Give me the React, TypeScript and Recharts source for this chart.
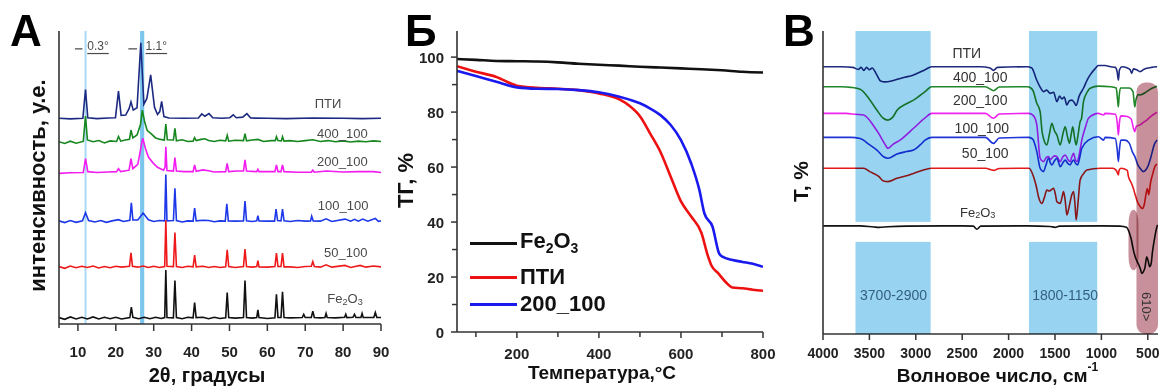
import React from "react";
import {
  LineChart,
  Line,
  XAxis,
  YAxis,
  ReferenceArea,
  ReferenceLine,
  ReferenceDot,
  Label,
  Legend,
} from "recharts";

const FONT = '"Liberation Sans", Arial, Helvetica, sans-serif';
const INK = "#333";

type Pt = [number, number];
const rows = (pts: Pt[]) => pts.map(([x, y]) => ({ x, y }));

// ---------- А: XRD patterns (2θ, offset intensity) ----------
const xrdTicks = [5, 10, 15, 20, 25, 30, 35, 40, 45, 50, 55, 60, 65, 70, 75, 80, 85, 90];
const xrdTickLabels = [10, 20, 30, 40, 50, 60, 70, 80, 90];

const xrdPti: Pt[] = [
  [5, 70.2], [8, 70.0], [11.3, 70.2], [12.0, 80], [12.6, 70.4], [15, 70.1], [18, 70.3],
  [19.9, 70.4], [20.7, 79.5], [21.4, 71.2], [22.6, 71.3], [23.5, 73.5], [24.0, 75.8],
  [24.6, 73], [25.6, 73.8], [26.6, 96], [27.4, 75], [28.2, 77], [29.2, 85], [30.2, 74],
  [31.0, 71.5], [31.6, 72.5], [32.1, 76], [32.7, 70.8], [34, 70.3], [38, 70.2], [41.8, 70.3],
  [42.7, 71.7], [43.5, 70.9], [44.6, 71.8], [45.6, 70.4], [48, 70.2], [50.1, 70.4], [51.0, 71.4],
  [51.8, 70.4], [53.5, 70.6], [54.6, 71.8], [55.6, 70.3], [60, 70.2], [65, 70.1], [72, 70.3],
  [80, 70.2], [85, 70.1], [90, 70.2],
];
const xrd400: Pt[] = [
  [5, 62.2], [6.5, 61.6], [8, 62.4], [9.5, 61.7], [11.4, 62.3], [12.0, 71], [12.5, 62.8],
  [14, 62.2], [15.5, 62.6], [17, 61.8], [18.5, 62.5], [20.2, 62.3], [20.7, 64], [21.3, 62.4],
  [22.5, 62.8], [23.6, 63], [24.0, 66.2], [24.5, 63.5], [25.6, 64.5], [26.5, 68], [27.0, 73],
  [27.6, 69], [28.3, 66], [29.3, 65], [30.5, 63.5], [31.8, 63], [32.8, 62.8], [33.2, 68.2],
  [33.6, 62.9], [35.2, 62.8], [35.6, 66.8], [36.0, 62.5], [37.5, 62.9], [39, 62.3], [40.4, 62.4],
  [40.8, 63.6], [41.2, 62.6], [42.5, 63], [43.5, 63.2], [44.5, 62.6], [46, 62.3], [47.5, 62.7],
  [49.0, 62.5], [49.4, 64.4], [49.8, 62.4], [51.5, 62.7], [53.7, 62.6], [54.1, 65], [54.5, 62.5],
  [56, 62.8], [57.5, 63], [59, 62.3], [61, 62.6], [62.1, 62.6], [62.4, 63.9], [62.8, 62.6],
  [63.7, 62.5], [64.0, 63.9], [64.4, 62.4], [66, 62.6], [68, 62.3], [70, 62.6], [72, 62.9],
  [74, 62.3], [76, 62.6], [78, 62.2], [80, 62.5], [82, 62.1], [84, 62.4], [86, 62.2], [88, 62.5],
  [90, 62.3],
];
const xrd200: Pt[] = [
  [5, 51.4], [8, 51.6], [11.4, 51.7], [12.0, 56.4], [12.6, 52], [15, 51.7], [18, 51.9],
  [20.2, 52], [20.7, 53], [21.3, 52], [23.5, 52.5], [24.0, 56.4], [24.5, 53], [25.8, 54.5],
  [26.6, 60], [27.1, 63.4], [27.8, 60], [28.6, 57], [29.8, 55], [31, 53.5], [32.6, 52.5],
  [33.0, 53.5], [33.2, 60.5], [33.5, 52.4], [35.2, 52.2], [35.6, 56.8], [36.0, 52.2], [38, 52],
  [40.4, 52], [40.8, 54.3], [41.2, 52.1], [43, 52.6], [44.5, 52.3], [46, 51.9], [49.0, 52],
  [49.4, 54.8], [49.8, 52], [52, 52.2], [53.7, 52.2], [54.1, 56], [54.5, 52.2], [57.2, 52],
  [57.5, 52.8], [57.8, 52], [62.0, 52], [62.4, 54.3], [62.8, 52], [63.6, 52], [64.0, 54.3],
  [64.4, 52], [68, 51.8], [71.6, 51.8], [72, 52.5], [72.4, 51.8], [75.5, 52.2], [80, 51.9],
  [84, 52], [88, 52], [90, 51.7],
];
const xrd100: Pt[] = [
  [5, 35.2], [6.5, 34.6], [8, 35.3], [9.5, 34.7], [11.2, 35.2], [12.0, 38], [12.8, 35.3],
  [14.5, 34.8], [16, 35.3], [17.5, 34.7], [19, 35.2], [20.7, 35.6], [22, 35], [23.7, 35.4],
  [24.1, 41.4], [24.5, 35.5], [25.8, 35.5], [27.2, 37.9], [28.6, 35.6], [30, 35], [31.5, 35.3],
  [32.9, 35.2], [33.2, 51], [33.5, 35.2], [35.2, 35.3], [35.6, 46.3], [36.0, 35.3], [37.5, 34.8],
  [39, 35.2], [40.4, 35.1], [40.8, 39.6], [41.2, 35.2], [43, 35.4], [44.5, 35.3], [46, 34.9],
  [47.5, 35.2], [48.9, 35.1], [49.3, 41], [49.7, 35.2], [51.5, 35.1], [53.7, 35.2], [54.1, 42],
  [54.5, 35.2], [56, 35.0], [57.2, 35.2], [57.5, 37], [57.8, 35.2], [60, 35.1], [61.9, 35.1],
  [62.3, 39.2], [62.7, 35.3], [63.6, 35.2], [64.0, 39.2], [64.4, 35.2], [66, 35], [68, 35.3],
  [70, 35.1], [71.4, 35.2], [71.7, 36.8], [72.1, 35.2], [74, 35.1], [75.5, 35.9], [77, 35],
  [80.5, 35.8], [82, 35.1], [83, 35.7], [84, 35.1], [85.2, 35.8], [86.5, 35.1], [88.5, 36],
  [89.3, 35], [90, 35.2],
];
const xrd50: Pt[] = [
  [5, 19.6], [6.5, 19.0], [8, 19.8], [9.5, 19.2], [11, 19.7], [12.5, 19.3], [14, 19.8],
  [15.5, 19.1], [17, 19.6], [18.5, 19.2], [20, 19.7], [21.5, 19.4], [23.6, 19.7], [24.0, 24.3],
  [24.4, 19.7], [25.8, 19.4], [27.2, 19.8], [28.6, 19.3], [30, 19.7], [31.5, 19.3], [32.9, 19.6],
  [33.2, 35.4], [33.5, 19.7], [35.2, 19.6], [35.6, 31.2], [36.0, 19.6], [37.5, 19.3], [39, 19.7],
  [40.4, 19.5], [40.8, 23.5], [41.2, 19.5], [43, 19.7], [44.5, 19.3], [46, 19.6], [47.5, 19.3],
  [49.0, 19.5], [49.4, 25.3], [49.8, 19.6], [51.5, 19.3], [53.7, 19.6], [54.1, 25.6], [54.5, 19.6],
  [56, 19.4], [57.2, 19.6], [57.5, 21.6], [57.8, 19.5], [60, 19.4], [62.0, 19.6], [62.4, 24.2],
  [62.8, 19.6], [63.6, 19.6], [64.0, 24.2], [64.4, 19.5], [66, 19.5], [68, 19.3], [70, 19.6],
  [71.6, 19.7], [72, 21.3], [72.4, 19.6], [74, 19.4], [75.5, 20.2], [77, 19.4], [80.5, 20],
  [82, 19.3], [84.5, 20], [86, 19.4], [88, 19.8], [90, 19.5],
];
const xrdFe: Pt[] = [
  [5, 2.2], [6.5, 1.6], [8, 2.4], [9.5, 1.7], [11, 2.3], [12.5, 1.7], [14, 2.4], [15.5, 1.7],
  [17, 2.3], [18.5, 1.8], [20, 2.3], [21.5, 1.7], [23.7, 2.2], [24.1, 5.8], [24.5, 2.3], [26, 1.8],
  [27.5, 2.3], [29, 1.8], [30.5, 2.3], [32, 1.9], [32.9, 2.2], [33.2, 18.4], [33.5, 2.2],
  [35.2, 2.1], [35.6, 14.8], [36.0, 2.2], [37.5, 1.8], [39, 2.3], [40.4, 2.1], [40.8, 7.3],
  [41.2, 2.2], [43, 2.3], [44.5, 1.8], [46, 2.3], [47.5, 1.9], [49.0, 2.1], [49.4, 10.7],
  [49.8, 2.2], [51.5, 2], [53.7, 2.2], [54.1, 14.8], [54.5, 2.2], [56, 2], [57.2, 2.2], [57.5, 4.8],
  [57.8, 2.2], [60, 1.9], [62.0, 2.1], [62.4, 10.1], [62.8, 2.2], [63.6, 2.2], [64.0, 11],
  [64.4, 2.2], [66, 2.1], [69.2, 2.2], [69.6, 3.3], [70, 2.2], [71.6, 2.2], [72, 4.4], [72.4, 2.2],
  [74, 2.1], [75.2, 2.2], [75.5, 3.6], [75.8, 2.2], [78, 2.1], [80.4, 2.3], [80.7, 3.3], [81, 2.2],
  [82.6, 2.3], [83, 3.3], [83.4, 2.2], [84.7, 2.2], [85, 3.6], [85.3, 2.2], [88.1, 2.2],
  [88.5, 3.9], [88.9, 2.2], [90, 2.2],
];

// ---------- Б: TGA ----------
const tgaXTicks = [100, 200, 300, 400, 500, 600, 700, 800];
const tgaXLabels = [200, 400, 600, 800];
const tgaYTicks = [0, 10, 20, 30, 40, 50, 60, 70, 80, 90, 100];
const tgaYLabels = [0, 20, 40, 60, 80, 100];
const tgaNames = ["Fe2O3", "ПТИ", "200_100"];

const tgaFe: Pt[] = [
  [54, 99.3], [100, 99.0], [150, 98.6], [200, 98.5], [250, 98.4], [300, 98.1], [350, 97.6],
  [400, 97.2], [450, 96.9], [500, 96.5], [550, 96.2], [600, 95.9], [650, 95.6], [700, 95.2],
  [750, 94.7], [800, 94.4],
];
const tgaPti: Pt[] = [
  [54, 96.7], [100, 94.7], [150, 92.8], [200, 89.6], [250, 88.8], [300, 88.5], [350, 88.0],
  [400, 86.8], [450, 84.6], [475, 82.2], [500, 78.5], [525, 72.2], [550, 65.5], [575, 56.5],
  [600, 47.5], [625, 42], [650, 36], [665, 28], [675, 24], [690, 21.5], [710, 18], [725, 16.2],
  [750, 15.9], [775, 15.4], [800, 15.0],
];
const tga200: Pt[] = [
  [54, 95.0], [100, 93.1], [150, 91.0], [200, 89.0], [250, 88.5], [300, 88.4], [350, 88.0],
  [400, 87.2], [450, 85.6], [500, 83.2], [525, 81.3], [550, 78.9], [575, 75.3], [600, 69.8],
  [625, 61.3], [645, 51.6], [657, 43.2], [677, 38.3], [693, 28.6], [701, 27.4], [726, 26.2],
  [750, 25.5], [775, 24.8], [800, 23.7],
];

// ---------- В: FTIR (offset transmittance) ----------
const irTicks = [500, 750, 1000, 1250, 1500, 1750, 2000, 2250, 2500, 2750, 3000, 3250, 3500, 3750, 4000];
const irTickLabels = [500, 1000, 1500, 2000, 2500, 3000, 3500, 4000];
const irBands: Pt[] = [[3650, 2840], [1780, 1045]];

const irPti: Pt[] = [
  [4000, 88.2], [3800, 88.2], [3680, 88.0], [3620, 87.3], [3590, 88.0], [3560, 87.0], [3530, 88.0],
  [3500, 87.2], [3470, 87.8], [3420, 85.5], [3380, 83.5], [3330, 83.2], [3250, 83.6], [3150, 84.5],
  [3024, 85.5], [2900, 87.2], [2830, 88.2], [2300, 88.2], [2200, 87.8], [2163, 87.0], [2120, 88.0],
  [1800, 88.2], [1750, 87.8], [1700, 84], [1660, 81.5], [1624, 80], [1590, 80.5], [1552, 79.4],
  [1515, 79.8], [1480, 76.7], [1450, 78.5], [1426, 77.6], [1400, 78.2], [1372, 75.6], [1345, 77],
  [1318, 77.2], [1295, 76.5], [1272, 75.4], [1240, 78.5], [1193, 81.1], [1150, 84], [1121, 85.5],
  [1070, 87.5], [1032, 88.6], [960, 88.6], [900, 88.2], [850, 88.0], [830, 86.5], [817, 83.8],
  [805, 87.2], [780, 88.2], [720, 87.8], [690, 87.2], [673, 86], [655, 87.5], [620, 87.2],
  [583, 86.6], [540, 87.4], [511, 87.7], [460, 88.0], [400, 88.2],
];
const ir400: Pt[] = [
  [4000, 81.6], [3800, 81.6], [3700, 81.4], [3600, 80.8], [3500, 77.5], [3420, 73.9], [3350, 71.2],
  [3300, 70.6], [3250, 71.5], [3200, 73.9], [3100, 76], [3024, 77.2], [2900, 80], [2830, 81.6],
  [2250, 81.6], [2163, 80.3], [2100, 81.5], [1800, 81.6], [1760, 81.2], [1732, 80], [1700, 76.5],
  [1660, 73.4], [1640, 67], [1624, 64.6], [1588, 62.4], [1560, 66], [1534, 69.5], [1505, 67],
  [1480, 65.7], [1444, 62.4], [1415, 66], [1390, 68.4], [1365, 65], [1344, 63], [1325, 66],
  [1308, 68.4], [1290, 65], [1272, 62.4], [1250, 66], [1229, 70.1], [1215, 71], [1193, 76.7],
  [1150, 80], [1121, 81.1], [1032, 81.8], [900, 81.6], [840, 81.2], [825, 77], [817, 75], [810, 78],
  [795, 81.2], [700, 81.2], [660, 80], [645, 76], [640, 75], [630, 77], [600, 79], [583, 78.9],
  [511, 80], [460, 81], [400, 81.8],
];
const ir200: Pt[] = [
  [4000, 72.8], [3750, 72.8], [3650, 72.5], [3563, 72.3], [3450, 68.5], [3400, 66.2], [3330, 62.5],
  [3300, 61.3], [3250, 62.5], [3170, 64], [3024, 67.9], [2900, 71.3], [2830, 72.8], [2250, 72.8],
  [2163, 71.2], [2100, 72.6], [1780, 72.8], [1730, 72], [1696, 69], [1660, 58], [1624, 56.9],
  [1595, 58.2], [1570, 58.6], [1550, 57.5], [1534, 58], [1505, 58.8], [1480, 58.6], [1460, 57.5],
  [1444, 56.9], [1415, 58.5], [1390, 59.1], [1360, 57.5], [1336, 56.9], [1318, 58.5], [1300, 59.6],
  [1280, 57.5], [1264, 56.9], [1240, 59], [1211, 64], [1170, 68.5], [1139, 71.2], [1032, 72.8],
  [977, 72.3], [960, 72.8], [850, 72.5], [830, 70], [817, 65.7], [805, 70], [790, 72], [720, 71.8],
  [680, 71], [655, 68], [640, 66.8], [625, 68.5], [583, 69], [540, 70], [511, 70.6], [460, 72],
  [400, 73.2],
];
const ir100: Pt[] = [
  [4000, 64.9], [3700, 64.9], [3600, 64.5], [3500, 62.5], [3419, 60.7], [3347, 58.5], [3300, 58],
  [3203, 59.4], [3100, 60.2], [3024, 60.7], [2950, 62.5], [2900, 64], [2830, 64.9], [2250, 64.9],
  [2163, 62.9], [2100, 64.7], [1780, 64.9], [1740, 64.3], [1696, 60.2], [1660, 54.7], [1624, 53.6],
  [1600, 55.5], [1570, 58], [1550, 56.5], [1534, 55.8], [1505, 57.2], [1480, 58], [1460, 56.5],
  [1444, 55.2], [1415, 56.5], [1390, 57.4], [1360, 56.2], [1336, 55.8], [1318, 56.8], [1300, 57.4],
  [1275, 56.2], [1257, 55.8], [1235, 58], [1211, 61.3], [1139, 64], [1032, 65.1], [977, 64],
  [960, 64.9], [850, 64.5], [830, 61], [817, 56.9], [805, 61], [790, 64], [745, 64], [700, 63],
  [665, 60], [640, 58.6], [610, 56], [583, 54.7], [547, 53.6], [520, 54.2], [493, 55.8], [470, 58],
  [430, 62.5], [400, 64],
];
const ir50: Pt[] = [
  [4000, 54.7], [3700, 54.7], [3563, 54.7], [3491, 53.5], [3400, 52], [3347, 50.5], [3300, 50.3],
  [3203, 51.4], [3100, 52.2], [3024, 53], [2900, 54.3], [2830, 54.7], [2250, 54.7], [2163, 54],
  [2100, 54.6], [1780, 54.7], [1732, 52], [1700, 48.5], [1678, 45.3], [1642, 43.1], [1615, 45],
  [1588, 47.5], [1560, 47.2], [1516, 48.1], [1495, 46], [1480, 43.7], [1444, 43.1], [1425, 45],
  [1408, 47], [1390, 44], [1372, 39.3], [1355, 41], [1336, 43.7], [1318, 46], [1300, 47], [1285, 43],
  [1272, 37.6], [1250, 44], [1229, 50.8], [1190, 53], [1157, 54.1], [1014, 54.7], [880, 54.7],
  [840, 54], [825, 53], [817, 52.5], [810, 54], [790, 54.7], [720, 54], [709, 52], [680, 50],
  [655, 48], [640, 46.4], [610, 43.5], [580, 42], [560, 41.4], [540, 42.5], [520, 46], [505, 48],
  [490, 46], [470, 50], [445, 53], [420, 55.5], [400, 56],
];
const irFe: Pt[] = [
  [4000, 35.7], [3600, 35.7], [3450, 35.3], [3400, 35.2], [3300, 35.4], [3100, 35.6], [2500, 35.7],
  [2380, 35.6], [2342, 34.6], [2300, 35.6], [1800, 35.7], [1550, 35.5], [1500, 35.2], [1450, 35.6],
  [1000, 35.7], [800, 35.6], [730, 35.2], [700, 33.5], [680, 31.5], [655, 27.7], [630, 25], [600, 23],
  [580, 21.5], [565, 20], [550, 20.4], [530, 22], [511, 25.5], [495, 24], [480, 22.2], [465, 23],
  [450, 27], [430, 31], [405, 35], [395, 36],
];

// ---------- shared pieces ----------
const axisLine = { stroke: INK, strokeWidth: 1.6 };

function Tick(props: any) {
  const { x, y, payload, side, labels, major, minor, gap, size } = props;
  const v = payload.value;
  const isMajor = labels.includes(v);
  const len = isMajor ? major : minor;
  const textStyle = { fontFamily: FONT, fontWeight: 700, fontSize: size, fill: "#222" };
  if (side === "left") {
    return (
      <g>
        <line x1={x} y1={y} x2={x - len} y2={y} stroke={INK} strokeWidth={1.5} />
        {isMajor && (
          <text x={x - gap} y={y} textAnchor="end" dominantBaseline="central" {...textStyle}>
            {v}
          </text>
        )}
      </g>
    );
  }
  return (
    <g>
      <line x1={x} y1={y} x2={x} y2={y + len} stroke={INK} strokeWidth={1.5} />
      {isMajor && (
        <text x={x} y={y + gap} textAnchor="middle" dominantBaseline="central" {...textStyle}>
          {v}
        </text>
      )}
    </g>
  );
}

function AxisTitle(props: any) {
  const { viewBox, vertical, dx = 0, dy = 0, size, children } = props;
  const cx = vertical ? viewBox.x + dx : viewBox.x + viewBox.width / 2 + dx;
  const cy = vertical ? viewBox.y + viewBox.height / 2 + dy : viewBox.y + dy;
  return (
    <text
      x={cx}
      y={cy}
      transform={vertical ? `rotate(-90 ${cx} ${cy})` : undefined}
      textAnchor="middle"
      dominantBaseline="central"
      fontFamily={FONT}
      fontWeight={700}
      fontSize={size}
      fill="#111"
    >
      {children}
    </text>
  );
}

const feO = (size: number) => [
  <tspan key="a">Fe</tspan>,
  <tspan key="b" dy={size * 0.3} fontSize={size * 0.7}>2</tspan>,
  <tspan key="c" dy={-size * 0.3}>O</tspan>,
  <tspan key="d" dy={size * 0.3} fontSize={size * 0.7}>3</tspan>,
];

// text placed at a data point through a zero-radius ReferenceDot
function note(key: string, x: number, y: number, body: React.ReactNode, opt: any = {}) {
  const { size = 13, fill = "#4a4a4a", anchor = "middle", rotate = 0, deco } = opt;
  return (
    <ReferenceDot
      key={key}
      x={x}
      y={y}
      r={0}
      fill="none"
      stroke="none"
      label={(p: any) => {
        const vb = p.viewBox;
        const cx = vb.x + (vb.width || 0) / 2;
        const cy = vb.y + (vb.height || 0) / 2;
        return (
          <text
            x={cx}
            y={cy}
            textAnchor={anchor}
            dominantBaseline="central"
            transform={rotate ? `rotate(${rotate} ${cx} ${cy})` : undefined}
            fontFamily={FONT}
            fontSize={size}
            fill={fill}
            textDecoration={deco}
          >
            {body}
          </text>
        );
      }}
    />
  );
}

const multiplyRect = (rx: number) => (p: any) => (
  <rect
    x={p.x}
    y={p.y}
    width={p.width}
    height={p.height}
    rx={rx}
    fill={p.fill}
    style={{ mixBlendMode: "multiply" }}
  />
);

// ---------- panels ----------
function XrdPanel() {
  const series: [Pt[], string][] = [
    [xrdPti, "#1d2a82"],
    [xrd400, "#17871f"],
    [xrd200, "#f21cf0"],
    [xrd100, "#1d38e8"],
    [xrd50, "#ee1a1a"],
    [xrdFe, "#111111"],
  ];
  return (
    <LineChart width={390} height={391} margin={{ top: 31, right: 9, bottom: 0, left: 0 }}>
      <XAxis
        dataKey="x"
        type="number"
        domain={[5, 90]}
        ticks={xrdTicks}
        allowDataOverflow
        height={67}
        tickSize={0}
        tickMargin={0}
        axisLine={axisLine}
        tickLine={false}
        tick={(p: any) => <Tick {...p} side="bottom" labels={xrdTickLabels} major={7} minor={4} gap={27} size={15} />}
      >
        <Label content={(p: any) => <AxisTitle {...p} dx={-13} dy={51} size={20}>2θ, градусы</AxisTitle>} />
      </XAxis>
      <XAxis xAxisId="top" orientation="top" type="number" domain={[5, 90]} height={0} tick={false} tickLine={false} axisLine={axisLine} />
      <YAxis type="number" domain={[0, 100]} allowDataOverflow width={59} tick={false} tickLine={false} axisLine={axisLine}>
        <Label content={(p: any) => <AxisTitle {...p} vertical dx={37} dy={8} size={22}>интенсивность, у.е.</AxisTitle>} />
      </YAxis>
      <YAxis yAxisId="right" orientation="right" type="number" domain={[0, 100]} width={0} tick={false} tickLine={false} axisLine={axisLine} />

      <ReferenceLine x={12} stroke="#a8daf3" strokeWidth={2} />
      <ReferenceArea x1={26.4} x2={27.5} fill="#7cc6ee" fillOpacity={1} stroke="none" />

      {series.map(([pts, color], i) => (
        <Line
          key={i}
          data={rows(pts)}
          dataKey="y"
          type="linear"
          stroke={color}
          strokeWidth={1.6}
          dot={false}
          isAnimationActive={false}
        />
      ))}

      <ReferenceLine segment={[{ x: 9.2, y: 93.9 }, { x: 11.2, y: 93.9 }]} stroke="#444" strokeWidth={1.2} />
      <ReferenceLine segment={[{ x: 23.3, y: 93.9 }, { x: 25.6, y: 93.9 }]} stroke="#444" strokeWidth={1.2} />
      {note("a1", 15.3, 94.9, "0.3°", { size: 12, deco: "underline" })}
      {note("a2", 30.7, 94.9, "1.1°", { size: 12, deco: "underline" })}
      {note("l1", 76, 75.3, "ПТИ")}
      {note("l2", 79.8, 65.1, "400_100")}
      {note("l3", 79.8, 55.4, "200_100")}
      {note("l4", 80, 40.6, "100_100")}
      {note("l5", 80.7, 24.3, "50_100")}
      {note("l6", 80.5, 8.8, feO(13))}
    </LineChart>
  );
}

function TgaLegend({ payload }: any) {
  const heights = [38, 30, 24];
  const items = [...(payload || [])].sort(
    (a: any, b: any) => tgaNames.indexOf(a.value) - tgaNames.indexOf(b.value)
  );
  return (
    <div style={{ fontFamily: FONT, fontWeight: 700, fontSize: 22, color: "#111" }}>
      {items.map((e: any, i: number) => (
        <div key={e.value} style={{ display: "flex", alignItems: "center", height: heights[i] }}>
          <span style={{ display: "inline-block", width: 47, height: 3, background: e.color, marginRight: 3 }} />
          <span style={{ lineHeight: 1 }}>
            {e.value === "Fe2O3" ? (
              <>
                Fe<sub style={{ fontSize: 14 }}>2</sub>O<sub style={{ fontSize: 14 }}>3</sub>
              </>
            ) : (
              e.value
            )}
          </span>
        </div>
      ))}
    </div>
  );
}

function TgaPanel() {
  const series: [Pt[], string][] = [
    [tgaFe, "#111111"],
    [tgaPti, "#ee1111"],
    [tga200, "#1a1aee"],
  ];
  return (
    <LineChart width={390} height={391} margin={{ top: 31, right: 17, bottom: 0, left: 0 }}>
      <XAxis
        dataKey="x"
        type="number"
        domain={[54, 800]}
        ticks={tgaXTicks}
        allowDataOverflow
        height={59}
        tickSize={0}
        tickMargin={0}
        axisLine={axisLine}
        tickLine={false}
        tick={(p: any) => <Tick {...p} side="bottom" labels={tgaXLabels} major={6} minor={5} gap={21} size={15} />}
      >
        <Label content={(p: any) => <AxisTitle {...p} dx={-8} dy={40} size={19}>Температура,°C</AxisTitle>} />
      </XAxis>
      <XAxis xAxisId="top" orientation="top" type="number" domain={[54, 800]} height={0} tick={false} tickLine={false} axisLine={axisLine} />
      <YAxis
        type="number"
        domain={[0, 109.5]}
        ticks={tgaYTicks}
        allowDataOverflow
        width={67}
        tickSize={0}
        tickMargin={0}
        axisLine={axisLine}
        tickLine={false}
        tick={(p: any) => <Tick {...p} side="left" labels={tgaYLabels} major={6} minor={5} gap={13} size={15} />}
      >
        <Label content={(p: any) => <AxisTitle {...p} vertical dx={15} dy={-1} size={22}>ТГ, %</AxisTitle>} />
      </YAxis>
      <YAxis yAxisId="right" orientation="right" type="number" domain={[0, 109.5]} width={0} tick={false} tickLine={false} axisLine={axisLine} />

      {series.map(([pts, color], i) => (
        <Line
          key={tgaNames[i]}
          name={tgaNames[i]}
          data={rows(pts)}
          dataKey="y"
          type="monotone"
          stroke={color}
          strokeWidth={2.6}
          dot={false}
          isAnimationActive={false}
        />
      ))}
      <Legend
        layout="vertical"
        align="center"
        verticalAlign="middle"
        content={TgaLegend}
        wrapperStyle={{ left: 80, top: 224, width: "auto" }}
      />
    </LineChart>
  );
}

function IrPanel() {
  const series: [Pt[], string][] = [
    [irPti, "#1f2a7e"],
    [ir400, "#20882a"],
    [ir200, "#ee22ee"],
    [ir100, "#1f35d8"],
    [ir50, "#e41a1a"],
    [irFe, "#111111"],
  ];
  const blue = "#98d4f2";
  const rose = "#c8909a";
  return (
    <LineChart width={387} height={391} margin={{ top: 31, right: 9, bottom: 0, left: 0 }}>
      <XAxis
        dataKey="x"
        type="number"
        domain={[390, 4000]}
        reversed
        ticks={irTicks}
        allowDataOverflow
        height={57}
        tickSize={0}
        tickMargin={0}
        axisLine={axisLine}
        tickLine={false}
        tick={(p: any) => <Tick {...p} side="bottom" labels={irTickLabels} major={6} minor={4} gap={19} size={14} />}
      >
        <Label
          content={(p: any) => (
            <AxisTitle {...p} dx={7} dy={41} size={19}>
              Волновое число, см
              <tspan dy={-8} fontSize={12}>-1</tspan>
            </AxisTitle>
          )}
        />
      </XAxis>
      <XAxis xAxisId="top" orientation="top" type="number" domain={[390, 4000]} reversed height={0} tick={false} tickLine={false} axisLine={axisLine} />
      <YAxis type="number" domain={[0, 100]} allowDataOverflow width={43} tick={false} tickLine={false} axisLine={axisLine}>
        <Label content={(p: any) => <AxisTitle {...p} vertical dx={20} dy={-1} size={21}>Т, %</AxisTitle>} />
      </YAxis>
      <YAxis yAxisId="right" orientation="right" type="number" domain={[0, 100]} width={0} tick={false} tickLine={false} axisLine={axisLine} />

      {series.map(([pts, color], i) => (
        <Line
          key={i}
          data={rows(pts)}
          dataKey="y"
          type="monotone"
          stroke={color}
          strokeWidth={1.6}
          dot={false}
          isAnimationActive={false}
        />
      ))}

      {irBands.map(([a, b]) => (
        <ReferenceArea key={`t${a}`} x1={a} x2={b} y1={37} y2={100} fill={blue} stroke="none" shape={multiplyRect(0)} zIndex={600} />
      ))}
      {irBands.map(([a, b]) => (
        <ReferenceArea key={`b${a}`} x1={a} x2={b} y1={0} y2={30.4} fill={blue} stroke="none" shape={multiplyRect(0)} zIndex={600} />
      ))}
      <ReferenceArea x1={390} x2={622} y1={0} y2={83} fill={rose} stroke="none" shape={multiplyRect(9)} zIndex={600} />
      <ReferenceArea x1={600} x2={708} y1={21} y2={41} fill={rose} stroke="none" shape={multiplyRect(14)} zIndex={599} />

      {note("p1", 2450, 92.7, "ПТИ", { size: 14, fill: "#333" })}
      {note("p2", 2306, 84.9, "400_100", { size: 14, fill: "#333" })}
      {note("p3", 2306, 77.2, "200_100", { size: 14, fill: "#333" })}
      {note("p4", 2288, 67.9, "100_100", { size: 14, fill: "#333" })}
      {note("p5", 2252, 59.6, "50_100", { size: 14, fill: "#333" })}
      {note("p6", 2333, 40.4, feO(13), { size: 13, fill: "#333" })}
      {note("b1", 3240, 12.9, "3700-2900", { size: 14, fill: "#33607f" })}
      {note("b2", 1391, 12.9, "1800-1150", { size: 14, fill: "#33607f" })}
      {note("b3", 511, 9, "610>", { size: 13, fill: "#333", rotate: 90 })}
    </LineChart>
  );
}

const letter: React.CSSProperties = {
  position: "absolute",
  top: 13,
  fontFamily: FONT,
  fontWeight: 700,
  fontSize: 44,
  lineHeight: 0.8,
  color: "#000",
};

export default function App() {
  return (
    <div
      style={{
        position: "absolute",
        left: 0,
        top: 0,
        width: 1167,
        height: 391,
        background: "#fff",
        overflow: "hidden",
      }}
    >
      <div style={{ position: "absolute", left: 0, top: 0 }}>
        <XrdPanel />
      </div>
      <div style={{ position: "absolute", left: 390, top: 0 }}>
        <TgaPanel />
      </div>
      <div style={{ position: "absolute", left: 780, top: 0 }}>
        <IrPanel />
      </div>
      <div style={{ ...letter, left: 10 }}>А</div>
      <div style={{ ...letter, left: 405 }}>Б</div>
      <div style={{ ...letter, left: 783 }}>В</div>
    </div>
  );
}
